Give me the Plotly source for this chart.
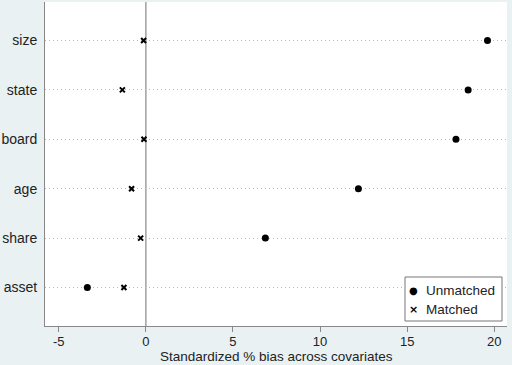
import plotly.graph_objects as go

covariates = ["asset", "share", "age", "board", "state", "size"]
unmatched = [-3.36, 6.86, 12.2, 17.8, 18.5, 19.61]
matched = [-1.26, -0.3, -0.82, -0.11, -1.35, -0.13]
x_ticks = [-5, 0, 5, 10, 15, 20]
x_tick_labels = ["-5", "0", "5", "10", "15", "20"]
legend_labels = ["Unmatched", "Matched"]

# plot area in pixels: x 45..507, y 2..326
PX0, PX1, PY0, PY1 = 45, 507, 2, 326


def px(x):
    return (x - PX0) / (PX1 - PX0)


def py(y):
    return (PY1 - y) / (PY1 - PY0)


fig = go.Figure()
fig.add_trace(go.Scatter(x=unmatched, y=covariates, mode="markers", name=legend_labels[0],
                         marker=dict(symbol="circle", size=7, color="black")))
fig.add_trace(go.Scatter(x=matched, y=covariates, mode="markers", name=legend_labels[1],
                         marker=dict(symbol="x-thin", size=5, color="black",
                                     line=dict(width=2, color="black"))))

fig.add_vline(x=0, line=dict(color="#a0a0a0", width=1.5), layer="below")

fig.add_annotation(text="Standardized % bias across covariates", xref="paper", yref="paper",
                   x=0.5, y=py(356.5), xanchor="center", yanchor="middle",
                   showarrow=False, font=dict(size=13.5, color="#222"))

# legend box (drawn manually to match compact Stata legend)
fig.add_shape(type="rect", xref="paper", yref="paper",
              x0=px(405), x1=px(502), y0=py(321), y1=py(277),
              line=dict(color="#777", width=1), fillcolor="white", layer="above")
fig.add_annotation(text="●", xref="paper", yref="paper", x=px(413), y=py(290),
                   xanchor="center", yanchor="middle", showarrow=False,
                   font=dict(size=10, color="black", family="DejaVu Sans"))
fig.add_annotation(text="<b>×</b>", xref="paper", yref="paper", x=px(413), y=py(309),
                   xanchor="center", yanchor="middle", showarrow=False,
                   font=dict(size=11, color="black", family="DejaVu Sans"))
for lab, yy in zip(legend_labels, [290, 309]):
    fig.add_annotation(text=lab, xref="paper", yref="paper", x=px(424), y=py(yy),
                       xanchor="left", yanchor="middle", showarrow=False,
                       font=dict(size=13.5, color="#222"))

fig.update_layout(
    width=512, height=365,
    margin=dict(l=PX0, r=512 - PX1, t=PY0, b=365 - PY1),
    paper_bgcolor="#e9f1f3",
    plot_bgcolor="white",
    font=dict(family="Arial, Liberation Sans, sans-serif", size=13.5, color="#222"),
    showlegend=False,
    xaxis=dict(range=[-5.79, 20.73], tickvals=x_ticks, ticktext=x_tick_labels,
               showgrid=False, zeroline=False,
               showline=True, linecolor="#888", linewidth=1, ticks="outside",
               ticklen=5, tickcolor="#888", automargin=False, ticklabelstandoff=-2,
               tickfont=dict(size=13)),
    yaxis=dict(type="category", categoryorder="array", categoryarray=covariates,
               range=[-0.78, 5.78], showgrid=True, gridcolor="#b8b8b8", griddash="1px,3px",
               gridwidth=1, zeroline=False, showline=True, linecolor="#888",
               linewidth=1, ticks="", ticklabelstandoff=4, automargin=False,
               tickfont=dict(size=14)),
)
fig.write_html("out.html", post_script="document.body.style.margin='0';",
               config={"displayModeBar": False})
